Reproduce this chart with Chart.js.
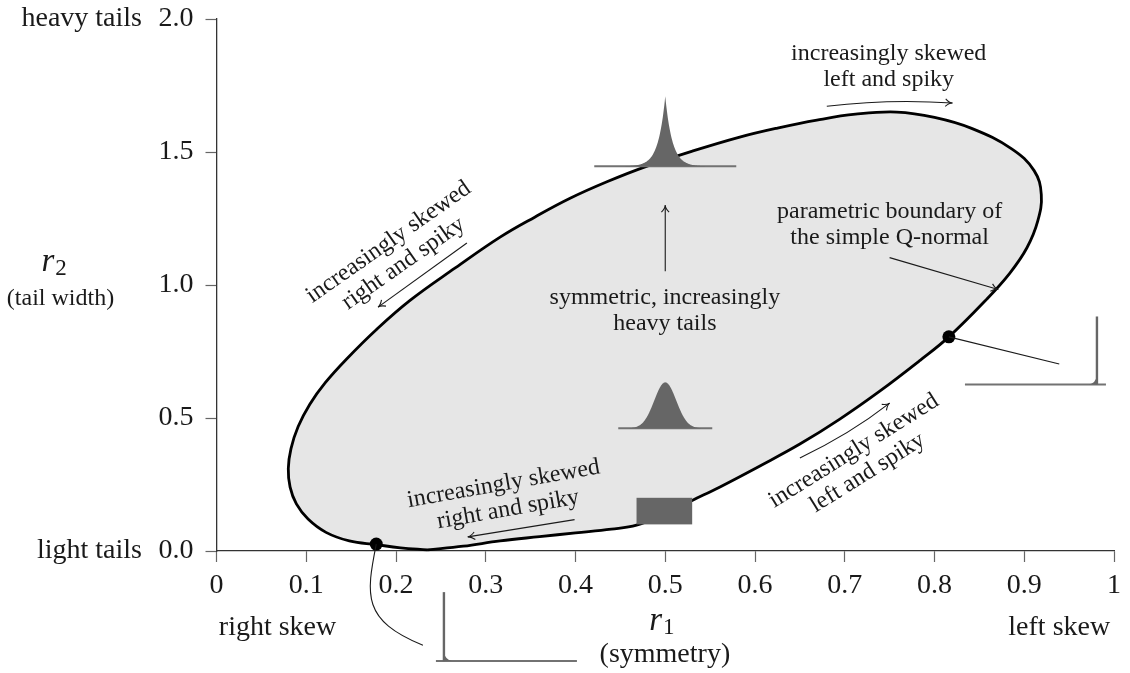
<!DOCTYPE html>
<html>
<head>
<meta charset="utf-8">
<script src="https://cdn.jsdelivr.net/npm/chart.js@4.4.0/dist/chart.umd.min.js"></script>
<style>
  html, body { margin: 0; padding: 0; background: #fff; }
</style>
</head>
<body>
<canvas id="qnChart" width="1130" height="673"></canvas>
<script>
// Boundary of the simple Q-normal (r1 = symmetry, r2 = tail width)
var boundaryR1 = [0.235, 0.275, 0.316, 0.360, 0.400, 0.440, 0.468, 0.500, 0.530, 0.561,
                  0.605, 0.650, 0.6945, 0.739, 0.784, 0.816, 0.858, 0.884, 0.903, 0.915,
                  0.919, 0.911, 0.886, 0.842, 0.800, 0.758, 0.712, 0.669, 0.625, 0.583,
                  0.530, 0.479, 0.435, 0.394, 0.355, 0.316, 0.266, 0.216, 0.178, 0.145,
                  0.121, 0.104, 0.091, 0.083, 0.080, 0.082, 0.089, 0.102, 0.122, 0.148,
                  0.178, 0.205, 0.235];
var boundaryR2 = [0.004, 0.018, 0.038, 0.054, 0.068, 0.082, 0.097, 0.140, 0.190, 0.241,
                  0.319, 0.402, 0.496, 0.601, 0.717, 0.805, 0.946, 1.045, 1.140, 1.240,
                  1.340, 1.430, 1.512, 1.588, 1.630, 1.650, 1.642, 1.620, 1.590, 1.556,
                  1.503, 1.446, 1.388, 1.326, 1.256, 1.180, 1.064, 0.943, 0.832, 0.722,
                  0.632, 0.552, 0.468, 0.385, 0.310, 0.240, 0.177, 0.120, 0.070, 0.038,
                  0.024, 0.012, 0.004];

// the two marked points on the boundary
var markerR1 = [0.178, 0.816];
var markerR2 = [0.026, 0.805];

var xTicks = [0, 0.1, 0.2, 0.3, 0.4, 0.5, 0.6, 0.7, 0.8, 0.9, 1];
var xTickLabels = ['0', '0.1', '0.2', '0.3', '0.4', '0.5', '0.6', '0.7', '0.8', '0.9', '1'];
var yTicks = [0, 0.5, 1, 1.5, 2];
var yTickLabels = ['0.0', '0.5', '1.0', '1.5', '2.0'];

var SERIF = "'Liberation Serif', 'DejaVu Serif', serif";
var INK = '#1a1a1a';

// little density sketches placed on the plane (anchor in data units, glyph size in px)
var icons = [
  { kind: 'bell', x: 0.5, y: 0.461, left: -47, right: 47, h: 46, s: 11 },
  { kind: 'peak', x: 0.5, y: 1.446, left: -71, right: 71, h: 70, s: 7 },
  { kind: 'spikeRight', x: 0.981, y: 0.626, left: -132, right: 9, h: 68 },
  { kind: 'spikeLeft', x: 0.2534, y: -0.414, left: -8, right: 133, h: 69 }
];

function drawIcon(c, ic, xs, ys) {
  var bx = xs.getPixelForValue(ic.x), by = ys.getPixelForValue(ic.y);
  c.save();
  c.fillStyle = '#666';
  c.strokeStyle = '#727272';
  c.lineWidth = 2;
  c.beginPath();
  c.moveTo(bx + ic.left, by);
  c.lineTo(bx + ic.right, by);
  c.stroke();
  if (ic.kind === 'bell' || ic.kind === 'peak') {
    c.beginPath();
    c.moveTo(bx + ic.left, by);
    for (var u = ic.left; u <= ic.right; u += 0.5) {
      var f = ic.kind === 'bell' ? Math.exp(-u * u / (2 * ic.s * ic.s)) : Math.exp(-Math.abs(u) / ic.s);
      c.lineTo(bx + u, by - ic.h * f);
    }
    c.lineTo(bx + ic.right, by);
    c.closePath();
    c.fill();
  } else {
    var dir = ic.kind === 'spikeLeft' ? 1 : -1;
    c.lineWidth = 2.4;
    c.strokeStyle = '#666';
    c.beginPath();
    c.moveTo(bx, by);
    c.lineTo(bx, by - ic.h);
    c.stroke();
    c.beginPath();
    c.moveTo(bx, by - 9);
    c.quadraticCurveTo(bx + dir * 1.5, by - 1, bx + dir * 8, by);
    c.lineTo(bx, by);
    c.closePath();
    c.fill();
  }
  c.restore();
}

// [r1, r2] anchors for arrows; optional control point for a gentle bend
var arrows = [
  { from: [0.5, 1.052], to: [0.5, 1.30] },
  { from: [0.680, 1.672], to: [0.820, 1.684], via: [0.75, 1.700] },
  { from: [0.750, 1.103], to: [0.871, 0.983] },
  { from: [0.279, 1.158], to: [0.180, 0.917] },
  { from: [0.650, 0.350], to: [0.750, 0.556], via: [0.706, 0.440] },
  { from: [0.399, 0.118], to: [0.280, 0.053] }
];

// text blocks: centre in data units, rotation in degrees
var notes = [
  { lines: ['increasingly skewed', 'left and spiky'], x: 0.749, y: 1.821, rot: 0 },
  { lines: ['parametric boundary of', 'the simple Q-normal'], x: 0.750, y: 1.227, rot: 0 },
  { lines: ['symmetric, increasingly', 'heavy tails'], x: 0.4996, y: 0.903, rot: 0 },
  { lines: ['increasingly skewed', 'right and spiky'], x: 0.200, y: 1.121, rot: -35 },
  { lines: ['increasingly skewed', 'left and spiky'], x: 0.7177, y: 0.335, rot: -32 },
  { lines: ['increasingly skewed', 'right and spiky'], x: 0.3224, y: 0.2038, rot: -10 }
];

var sideLabels = [
  { text: 'heavy tails', x: -0.083, y: 2.0, align: 'right', size: 28 },
  { text: 'light tails', x: -0.083, y: 0.0, align: 'right', size: 28 },
  { text: 'right skew', x: 0.068, y: -0.287, align: 'center', size: 28 },
  { text: 'left skew', x: 0.939, y: -0.287, align: 'center', size: 28 },
  { text: '(tail width)', x: -0.1738, y: 0.950, align: 'center', size: 24 },
  { text: '(symmetry)', x: 0.4996, y: -0.388, align: 'center', size: 28 }
];

function arrowHead(c, x1, y1, fx, fy) {
  var a = Math.atan2(y1 - fy, x1 - fx), L = 8, w = 0.5;
  c.beginPath();
  c.moveTo(x1 - L * Math.cos(a - w), y1 - L * Math.sin(a - w));
  c.quadraticCurveTo(x1 - 3 * Math.cos(a), y1 - 3 * Math.sin(a), x1, y1);
  c.quadraticCurveTo(x1 - 3 * Math.cos(a), y1 - 3 * Math.sin(a), x1 - L * Math.cos(a + w), y1 - L * Math.sin(a + w));
  c.stroke();
}

function mathLabel(c, sub, cx, baseY) {
  c.save();
  c.fillStyle = INK;
  c.textBaseline = 'alphabetic';
  c.textAlign = 'left';
  c.font = 'italic 33px ' + SERIF;
  var wr = c.measureText('r').width;
  c.font = '23px ' + SERIF;
  var ws = c.measureText(sub).width;
  var x0 = cx - (wr + ws + 1) / 2;
  c.font = 'italic 33px ' + SERIF;
  c.fillText('r', x0, baseY);
  c.font = '23px ' + SERIF;
  c.fillText(sub, x0 + wr + 1, baseY + 4);
  c.restore();
}

var annotate = {
  id: 'annotate',
  afterDatasetsDraw: function (chart) {
    var c = chart.ctx, xs = chart.scales.x, ys = chart.scales.y;
    function P(p) { return [xs.getPixelForValue(p[0]), ys.getPixelForValue(p[1])]; }

    c.save();
    // uniform density block
    var r0 = P([0.468, 0.2]), r1 = P([0.530, 0.1]);
    c.fillStyle = '#666';
    c.fillRect(r0[0], r0[1], r1[0] - r0[0], r1[1] - r0[1]);

    icons.forEach(function (ic) { drawIcon(c, ic, xs, ys); });

    // connectors from the marked points to their densities
    c.strokeStyle = INK;
    c.lineWidth = 1.1;
    var m2 = P([markerR1[1], markerR2[1]]), e2 = P([0.939, 0.703]);
    c.beginPath(); c.moveTo(m2[0], m2[1]); c.lineTo(e2[0], e2[1]); c.stroke();
    var m1 = P([markerR1[0], markerR2[0]]), q1 = P([0.1667, -0.1665]), q2 = P([0.162, -0.2605]), q3 = P([0.230, -0.3545]);
    c.beginPath(); c.moveTo(m1[0], m1[1]); c.bezierCurveTo(q1[0], q1[1], q2[0], q2[1], q3[0], q3[1]); c.stroke();

    // arrows
    arrows.forEach(function (a) {
      var f = P(a.from), t = P(a.to);
      c.beginPath();
      c.moveTo(f[0], f[1]);
      if (a.via) {
        var v = P(a.via);
        c.quadraticCurveTo(v[0], v[1], t[0], t[1]);
        c.stroke();
        arrowHead(c, t[0], t[1], v[0], v[1]);
      } else {
        c.lineTo(t[0], t[1]);
        c.stroke();
        arrowHead(c, t[0], t[1], f[0], f[1]);
      }
    });

    // notes
    c.fillStyle = INK;
    c.font = '24px ' + SERIF;
    c.textAlign = 'center';
    c.textBaseline = 'middle';
    notes.forEach(function (n) {
      var p = P([n.x, n.y]);
      c.save();
      c.translate(p[0], p[1]);
      c.rotate(n.rot * Math.PI / 180);
      var lh = 26, top = -(n.lines.length - 1) * lh / 2;
      n.lines.forEach(function (s, i) { c.fillText(s, 0, top + i * lh); });
      c.restore();
    });

    // axis side labels
    sideLabels.forEach(function (l) {
      var p = P([l.x, l.y]);
      c.font = l.size + 'px ' + SERIF;
      c.textAlign = l.align;
      c.fillText(l.text, p[0], p[1]);
    });
    var a1 = P([0.4962, -0.298]), a2 = P([-0.181, 1.0515]);
    mathLabel(c, '1', a1[0], a1[1]);
    mathLabel(c, '2', a2[0], a2[1]);
    c.restore();
  }
};

var ctx = document.getElementById('qnChart').getContext('2d');

var qnChart = new Chart(ctx, {
  type: 'scatter',
  data: {
    datasets: [{
      label: 'markers',
      data: markerR1.map(function (v, i) { return { x: v, y: markerR2[i] }; }),
      pointRadius: 6.5,
      pointBackgroundColor: '#000',
      pointBorderWidth: 0,
      clip: false,
      order: 0
    }, {
      label: 'boundary',
      type: 'line',
      data: boundaryR1.map(function (v, i) { return { x: v, y: boundaryR2[i] }; }),
      borderColor: '#000',
      borderWidth: 2.8,
      backgroundColor: '#e6e6e6',
      fill: 'shape',
      tension: 0.4,
      pointRadius: 0,
      clip: false,
      order: 1
    }]
  },
  options: {
    responsive: false,
    animation: false,
    devicePixelRatio: 1,
    layout: { padding: { left: 0, right: 16, top: 19, bottom: 0 } },
    plugins: { legend: { display: false }, tooltip: { enabled: false } },
    scales: {
      x: {
        type: 'linear', min: 0, max: 1,
        afterBuildTicks: function (s) { s.ticks = xTicks.map(function (v) { return { value: v }; }); },
        afterFit: function (s) { s.height = 122; s.paddingLeft = 0; s.paddingRight = 0; },
        ticks: {
          callback: function (v, i) { return xTickLabels[i]; },
          font: { family: SERIF, size: 28 }, color: INK, padding: 7, maxRotation: 0
        },
        grid: { drawOnChartArea: false, tickLength: 11, tickColor: '#666', tickWidth: 1.2 },
        border: { color: '#333', width: 1.3 }
      },
      y: {
        type: 'linear', min: 0, max: 2,
        afterBuildTicks: function (s) { s.ticks = yTicks.map(function (v) { return { value: v }; }); },
        afterFit: function (s) { s.width = 216.5; s.paddingTop = 0; s.paddingBottom = 0; },
        ticks: {
          callback: function (v, i) { return yTickLabels[i]; },
          font: { family: SERIF, size: 28 }, color: INK, padding: 12
        },
        grid: { drawOnChartArea: false, tickLength: 11, tickColor: '#666', tickWidth: 1.2 },
        border: { color: '#333', width: 1.3 }
      }
    }
  },
  plugins: [annotate]
});
</script>
</body>
</html>
